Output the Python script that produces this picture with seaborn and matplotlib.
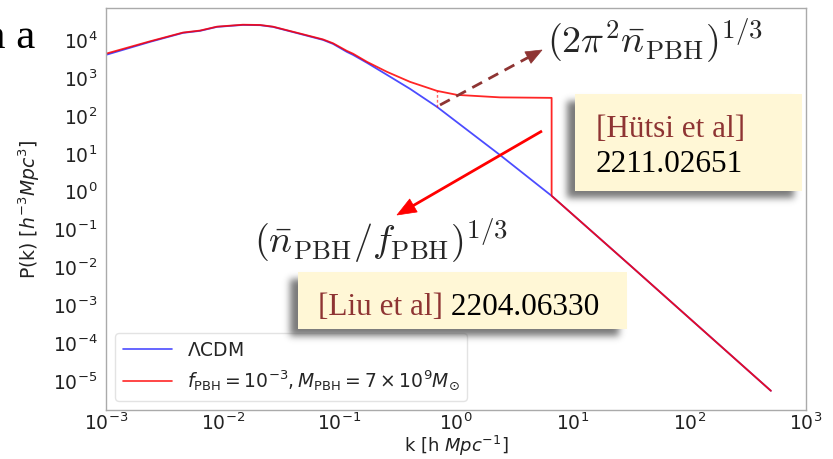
import numpy as np
import matplotlib
matplotlib.use("Agg")
import matplotlib.pyplot as plt
from matplotlib.patches import Rectangle, Polygon
from matplotlib.ticker import LogLocator, NullFormatter
import seaborn as sns
import pandas as pd

# Linear matter power spectrum, LCDM
k_lcdm = [0.001, 0.00238, 0.00457, 0.0064, 0.00893, 0.0149, 0.0209, 0.027,
          0.046, 0.0724, 0.0883, 0.116, 0.131, 0.173, 0.256, 0.404, 0.687,
          2.38, 6.6, 31.6, 500.0]
p_lcdm = [4030, 8860, 15300, 17300, 22000, 24800, 24400, 22000,
          14400, 10000, 7850, 4830, 4030, 2480, 1200, 512, 172,
          9.3, 0.78, 0.011, 5.7e-6]

# Same spectrum with the PBH Poisson (shot-noise) term, cut off at high k
k_pbh = [0.001, 0.00238, 0.00457, 0.0064, 0.00893, 0.0149, 0.0209, 0.027,
         0.046, 0.0724, 0.0883, 0.116, 0.131, 0.173, 0.256, 0.404, 0.687,
         1.02, 2.38, 6.6, 6.6, 31.6, 500.0]
p_pbh = [4330, 9160, 15600, 17600, 22300, 25100, 24700, 22300,
         14700, 10300, 8150, 5130, 4330, 2630, 1440, 783, 454,
         356, 306, 297, 0.78, 0.011, 5.7e-6]

# k where the two spectra are joined by a dashed connector
k_mark = 0.687
p_mark_lcdm = 172
p_mark_pbh = 454

label_lcdm = r"$\Lambda$CDM"
label_pbh = r"$f_{\rm PBH}=10^{-3}, M_{\rm PBH}=7\times 10^{9}M_{\odot}$"

sns.set_theme(style="white")
plt.rcParams["font.family"] = ["DejaVu Sans"]
plt.rcParams["mathtext.fontset"] = "dejavusans"

FS = 13.5
W, H = 833, 459
fig = plt.figure(figsize=(W / 100, H / 100), dpi=100)
ax = fig.add_axes([106 / W, 1 - 410 / H, 700 / W, 402 / H])

df_lcdm = pd.DataFrame({"k": k_lcdm, "P": p_lcdm})
df_pbh = pd.DataFrame({"k": k_pbh, "P": p_pbh})
sns.lineplot(data=df_lcdm, x="k", y="P", ax=ax, color="blue", lw=1.3,
             alpha=0.7, estimator=None, sort=False, label=label_lcdm)
sns.lineplot(data=df_pbh, x="k", y="P", ax=ax, color="red", lw=1.3,
             alpha=0.85, estimator=None, sort=False, label=label_pbh)
ax.plot([k_mark, k_mark], [p_mark_lcdm, p_mark_pbh], color="red", lw=1.0,
        alpha=0.6, ls=(0, (2, 1.5)))

ax.set_xscale("log")
ax.set_yscale("log")
ax.set_xlim(1e-3, 1e3)
ax.set_ylim(10 ** -5.75, 10 ** 4.84)
for axis in (ax.xaxis, ax.yaxis):
    axis.set_major_locator(LogLocator(base=10, numticks=30))
    axis.set_minor_locator(LogLocator(base=10, subs=np.arange(2, 10), numticks=30))
    axis.set_minor_formatter(NullFormatter())

for s in ax.spines.values():
    s.set_color("#aaaaaa")
    s.set_linewidth(1.0)
ax.tick_params(which="both", direction="in", color="#999999", labelsize=FS,
               labelcolor="#222222")
ax.tick_params(which="major", length=4, width=0.8)
ax.tick_params(which="minor", length=2, width=0.6)
ax.tick_params(axis="y", which="major", pad=6)
ax.tick_params(axis="x", which="major", pad=1.5)

ax.set_xlabel(r"k [h $Mpc^{-1}$]", fontsize=13, color="#222222")
ax.set_ylabel(r"P(k) [$h^{-3}Mpc^{3}$]", fontsize=FS, color="#222222")
ax.xaxis.set_label_coords(0.5, -0.059)
ax.yaxis.set_label_coords(-0.091, 0.5)

leg = ax.legend(loc="lower left", fontsize=FS, handlelength=2.6,
                frameon=True, borderaxespad=0.5, labelspacing=0.5)
leg.get_frame().set_edgecolor("#dddddd")
for h in leg.get_lines():
    h.set_linewidth(1.2)

# Overlay in pixel coordinates for the callouts
ov = fig.add_axes([0, 0, 1, 1], zorder=5)
ov.patch.set_alpha(0)

boxes = [(575, 94, 802, 191), (298, 272, 627, 329)]
shadow_off = (-8, 7)
mask = np.zeros((H, W))
for (x0, y0, x1, y1) in boxes:
    mask[y0 + shadow_off[1]:y1 + shadow_off[1], x0 + shadow_off[0]:x1 + shadow_off[0]] = 1.0
sig = 3.5
r = np.arange(-12, 13)
kern = np.exp(-0.5 * (r / sig) ** 2)
kern /= kern.sum()
mask = np.apply_along_axis(lambda v: np.convolve(v, kern, mode="same"), 1, mask)
mask = np.apply_along_axis(lambda v: np.convolve(v, kern, mode="same"), 0, mask)
rgba = np.zeros((H, W, 4))
rgba[..., :3] = 0.3
rgba[..., 3] = mask * 0.75
ov.imshow(rgba, extent=(0, W, H, 0), interpolation="bilinear", aspect="auto", zorder=1)
ov.set_xlim(0, W)
ov.set_ylim(H, 0)
ov.axis("off")

for (x0, y0, x1, y1) in boxes:
    ov.add_patch(Rectangle((x0, y0), x1 - x0, y1 - y0, facecolor="#FFF7D6",
                           edgecolor="none", zorder=2))

brown = "#8E3433"
serif = ["Liberation Serif", "DejaVu Serif"]
TS = 22.5
ov.text(596, 137, "[Hütsi et al]", color=brown, fontsize=TS, family=serif,
        va="baseline", ha="left", zorder=3)
ov.text(596, 172, "2211.02651", color="black", fontsize=TS, family=serif,
        va="baseline", ha="left", zorder=3)
t_liu = ov.text(318, 315, "[Liu et al]", color=brown, fontsize=TS, family=serif,
                va="baseline", ha="left", zorder=3)
ov.annotate(" 2204.06330", xy=(1, 0), xycoords=t_liu, va="bottom", ha="left",
            color="black", fontsize=TS, family=serif, zorder=3)

MS = 27.5
ov.text(547, 53, r"$(2\pi^2\bar{n}_{\rm PBH})^{1/3}$", fontsize=MS,
        math_fontfamily="cm", va="baseline", ha="left", zorder=3)
ov.text(254, 253, r"$(\bar{n}_{\rm PBH}/f_{\rm PBH})^{1/3}$", fontsize=MS,
        math_fontfamily="cm", va="baseline", ha="left", zorder=3)

ov.text(35.5, 48, "n a", fontsize=31, family=serif, va="baseline", ha="right",
        color="black", zorder=3)


def arrow(tail, tip, color, lw, head_len, head_w, dashes=None):
    tail = np.asarray(tail, float)
    tip = np.asarray(tip, float)
    d = tip - tail
    u = d / np.hypot(*d)
    n = np.array([-u[1], u[0]])
    base = tip - u * head_len
    ls = "-" if dashes is None else (0, dashes)
    ov.plot([tail[0], base[0] + u[0]], [tail[1], base[1] + u[1]], color=color,
            lw=lw, ls=ls, solid_capstyle="butt", dash_capstyle="butt", zorder=3)
    ov.add_patch(Polygon([tip, base + n * head_w / 2, base - n * head_w / 2],
                         closed=True, facecolor=color, edgecolor=color, lw=0.5,
                         zorder=3))


arrow((440, 105), (542, 50), brown, 2.0, 16, 13, dashes=(4, 2.6))
arrow((542, 131), (397, 215), "red", 2.0, 19, 15)

fig.savefig("out.png", dpi=100)
